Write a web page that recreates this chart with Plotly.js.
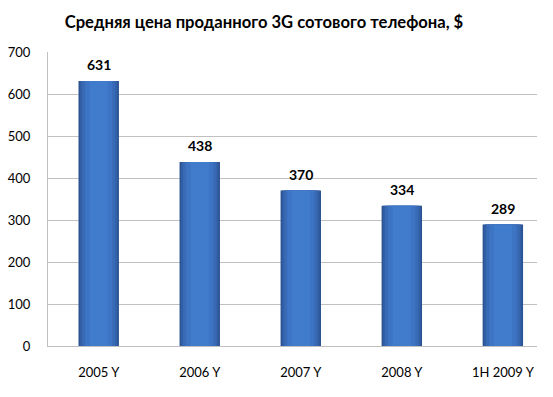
<!DOCTYPE html>
<html>
<head>
<meta charset="utf-8">
<script src="https://cdn.plot.ly/plotly-3.0.1.min.js"></script>
<style>html,body{margin:0;padding:0;background:#fff;}#chart{width:553px;height:397px;}</style>
</head>
<body>
<div id="chart"></div>
<script>
const categories = ["2005 Y", "2006 Y", "2007 Y", "2008 Y", "1H 2009 Y"];
const prices = [631, 438, 370, 334, 289];
const yTicks = [0, 100, 200, 300, 400, 500, 600, 700];
const titleText = "Средняя цена проданного 3G сотового телефона, $";

const FONT = "Lato, 'Open Sans', sans-serif";

// layered bars to imitate the horizontal shading of the original bars
const layers = [
  {w: 0.40, c: "#2B5391"},
  {w: 0.37, c: "#325FA5"},
  {w: 0.33, c: "#386AB6"},
  {w: 0.27, c: "#3D74C4"},
  {w: 0.18, c: "#417BCC"}
];
const traces = layers.map(l => ({
  type: "bar",
  x: categories,
  y: prices,
  width: l.w,
  marker: {color: l.c, line: {width: 0}},
  hoverinfo: "skip",
  showlegend: false
}));

const annotations = categories.map((c, i) => ({
  x: c, y: prices[i], xref: "x", yref: "y",
  text: "<b>" + prices[i] + "</b>",
  showarrow: false, yanchor: "bottom", yshift: 6,
  font: {family: FONT, size: 14, color: "#000"}
}));

const layout = {
  width: 553, height: 397,
  margin: {l: 47.5, r: 15.5, t: 52, b: 51.3, pad: 0},
  paper_bgcolor: "#fff", plot_bgcolor: "#fff",
  barmode: "overlay",
  title: {
    text: "<b>" + titleText + "</b>",
    font: {family: FONT, size: 16.6, color: "#000"},
    xref: "container", yref: "container",
    x: 264 / 553, xanchor: "center",
    y: 1 - 22 / 397, yanchor: "middle"
  },
  xaxis: {
    type: "category",
    categoryarray: categories,
    range: [-0.502, 4.338],
    showgrid: false,
    showline: true, linecolor: "#BFBFBF", linewidth: 1,
    ticks: "", ticklabelstandoff: 14,
    tickfont: {family: FONT, size: 13, color: "#000"},
    fixedrange: true
  },
  yaxis: {
    range: [0, 700],
    tickvals: yTicks,
    ticktext: yTicks.map(String),
    showgrid: true, gridcolor: "#C0C0C0", gridwidth: 1,
    showline: true, linecolor: "#BFBFBF", linewidth: 1,
    zeroline: false,
    ticks: "", ticklabelstandoff: 14,
    tickfont: {family: FONT, size: 13, color: "#000"},
    fixedrange: true
  },
  annotations: annotations
};

Plotly.newPlot("chart", traces, layout, {displayModeBar: false, staticPlot: true});
</script>
</body>
</html>
